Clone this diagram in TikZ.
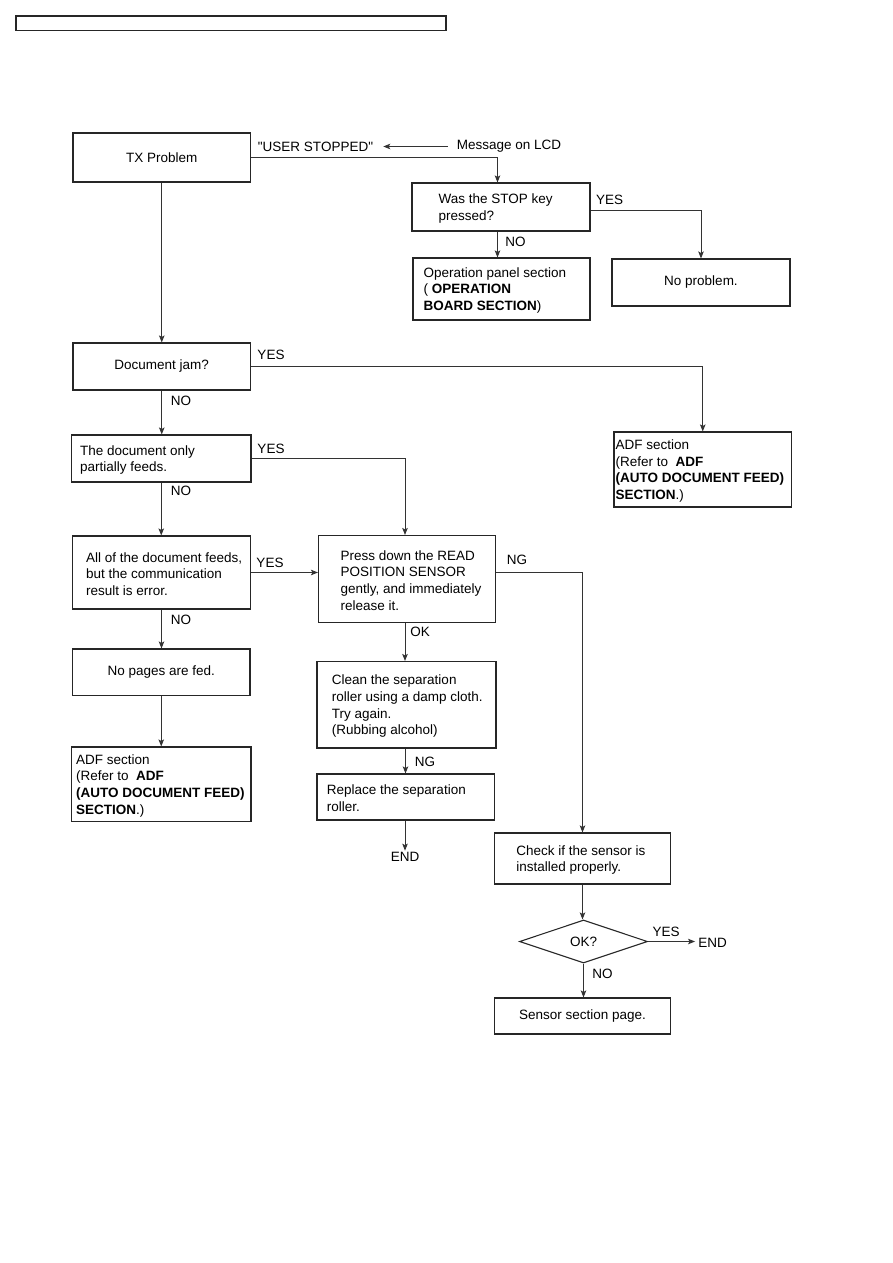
\documentclass[tikz,border=0pt]{standalone}
\usepackage{fontspec}
\setmainfont{Liberation Sans}[Ligatures=TeXOff]
\usetikzlibrary{shapes.geometric,arrows.meta}
\begin{document}
\begin{tikzpicture}[x=1pt,y=-1pt,
  every node/.style={font=\fontsize{13.5}{16.8}\selectfont},
  box/.style={draw=black!85,line width=1.1pt,inner sep=0pt,rectangle},
  txt/.style={inner sep=0pt,align=left,anchor=west,yshift=-1.5pt},
  lbl/.style={inner sep=0pt},
  conn/.style={draw=black!80,line width=0.9pt},
  arr/.style={conn,-{Stealth[length=7pt,width=5.5pt,inset=1.5pt]}}]
\useasboundingbox (0,0) rectangle (893,1263);
% header
\node[box,line width=1.3pt,minimum width=430,minimum height=14.5] (hdr) at (231,23.25) {};
% boxes
\node[box,minimum width=177.5,minimum height=49] (tx) at (161.75,157.5) {TX Problem};
\node[box,minimum width=178,minimum height=48] (was) at (501,207) {};
\node[txt] (wast) at ([xshift=27pt]was.west) {Was the STOP key\\pressed?};
\node[box,minimum width=177,minimum height=62] (op) at (501.5,289) {};
\node[txt] (opt) at ([xshift=11pt]op.west) {Operation panel section\\( \textbf{OPERATION}\\\textbf{BOARD SECTION})};
\node[box,minimum width=178,minimum height=47] (nop) at (701,282.5) {No problem.};
\node[box,minimum width=177.5,minimum height=47] (jam) at (161.75,366.5) {Document jam?};
\node[box,minimum width=177.5,minimum height=75] (adfr) at (702.75,469.5) {};
\node[txt] (adfrt) at ([xshift=2pt]adfr.west) {ADF section\\(Refer to\ \ \textbf{ADF}\\\textbf{(AUTO DOCUMENT FEED)}\\\textbf{SECTION}.)};
\node[box,minimum width=179.5,minimum height=47] (part) at (161.25,458.5) {};
\node[txt] (partt) at ([xshift=9pt]part.west) {The document only\\partially feeds.};
\node[box,minimum width=178,minimum height=73] (all) at (161.5,572.5) {};
\node[txt] (allt) at ([xshift=14pt]all.west) {All of the document feeds,\\but the communication\\result is error.};
\node[box,minimum width=177,minimum height=87] (press) at (407,579) {};
\node[txt] (presst) at ([xshift=22.5pt]press.west) {Press down the READ\\POSITION SENSOR\\gently, and immediately\\release it.};
\node[box,minimum width=177.5,minimum height=46.5] (nopg) at (161.25,672.25) {No pages are fed.};
\node[box,minimum width=179.5,minimum height=74.5] (adfl) at (161.25,784.25) {};
\node[txt] (adflt) at ([xshift=5pt]adfl.west) {ADF section\\(Refer to\ \ \textbf{ADF}\\\textbf{(AUTO DOCUMENT FEED)}\\\textbf{SECTION}.)};
\node[box,minimum width=179,minimum height=86.5] (clean) at (406.5,704.75) {};
\node[txt] (cleant) at ([xshift=15.3pt]clean.west) {Clean the separation\\roller using a damp cloth.\\Try again.\\(Rubbing alcohol)};
\node[box,minimum width=177.5,minimum height=46] (repl) at (405.75,797) {};
\node[txt] (replt) at ([xshift=10.3pt]repl.west) {Replace the separation\\roller.};
\node[box,minimum width=176,minimum height=51] (check) at (582.5,858.5) {};
\node[txt] (checkt) at ([xshift=22.3pt]check.west) {Check if the sensor is\\installed properly.};
\node[draw=black!85,line width=1.1pt,diamond,aspect=2.98,inner sep=0pt,minimum width=128,minimum height=43] (dia) at (583.5,941.5) {OK?};
\node[box,minimum width=176,minimum height=36] (sens) at (582.5,1016) {Sensor section page.};
% free texts
\node[lbl] (usr) at (315.5,146.5) {"USER STOPPED"};
\node[lbl] (msg) at (509,146.5) {Message on LCD};
\node[lbl] (end1) at (405,857) {END};
\node[lbl] (end2) at (712.5,942.5) {END};
% labels
\node[lbl] at (609.5,199.5) {YES};
\node[lbl] at (515.5,242) {NO};
\node[lbl] at (271,355) {YES};
\node[lbl] at (181,401) {NO};
\node[lbl] at (271,449) {YES};
\node[lbl] at (181,491) {NO};
\node[lbl] at (270,563) {YES};
\node[lbl] at (181,620) {NO};
\node[lbl] at (517,560) {NG};
\node[lbl] at (420,632) {OK};
\node[lbl] at (425,762) {NG};
\node[lbl] at (666,932) {YES};
\node[lbl] at (602.5,973.5) {NO};
% connectors
\draw[arr] ([xshift=-9pt]msg.west) -- ([xshift=10pt]usr.east);
\draw[arr] (tx.east) -| ([xshift=-3.5pt]was.north);
\draw[arr] ([yshift=-3pt]was.east) -| (nop.north);
\draw[arr] ([xshift=-3.5pt]was.south) -- ([xshift=-3.5pt]was.south |- op.north);
\draw[arr] (tx.south) -- (tx.south |- jam.north);
\draw[arr] (jam.east) -| (adfr.north);
\draw[arr] (jam.south) -- (jam.south |- part.north);
\draw[arr] (part.east) -| ([xshift=-2pt]press.north);
\draw[arr] (part.south) -- (part.south |- all.north);
\draw[arr] (all.east) -- (all.east -| press.west);
\draw[arr] ([yshift=7pt]press.east) -| (check.north);
\draw[arr] ([xshift=-2pt]press.south) -- ([xshift=-2pt]press.south |- clean.north);
\draw[arr] (all.south) -- (all.south |- nopg.north);
\draw[arr] (nopg.south) -- (nopg.south |- adfl.north);
\draw[arr] ([xshift=-1pt]clean.south) -- ([xshift=-1pt]clean.south |- repl.north);
\draw[arr] ([xshift=-0.75pt]repl.south) -- ([yshift=1.5pt]end1.north);
\draw[arr] (check.south) -- (check.south |- dia.north);
\draw[arr] (dia.east) -- ([xshift=-3pt]dia.east -| end2.west);
\draw[arr] (dia.south) -- (dia.south |- sens.north);
\end{tikzpicture}
\end{document}
